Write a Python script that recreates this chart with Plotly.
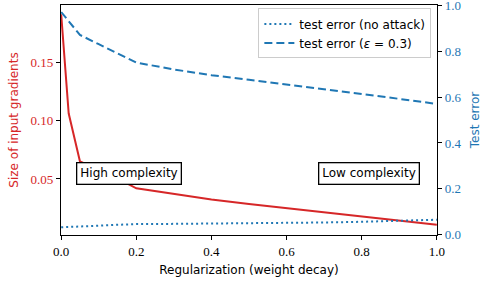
import plotly.graph_objects as go

x_vals = [0.0, 0.02, 0.05, 0.1, 0.15, 0.2, 0.3, 0.4, 0.5, 0.6, 0.7, 0.8, 0.9, 1.0]
grad_size = [0.191, 0.106, 0.065, 0.0575, 0.0505, 0.042, 0.037, 0.0325, 0.0285, 0.025, 0.0215, 0.0178, 0.0143, 0.0108]
err_clean = [0.033, 0.034, 0.036, 0.040, 0.044, 0.047, 0.048, 0.049, 0.050, 0.052, 0.054, 0.057, 0.061, 0.066]
err_attack = [0.97, 0.93, 0.87, 0.83, 0.79, 0.75, 0.72, 0.695, 0.675, 0.655, 0.635, 0.612, 0.592, 0.570]

x_ticks = [0.0, 0.2, 0.4, 0.6, 0.8, 1.0]
left_ticks = [0.05, 0.10, 0.15]
right_ticks = [0.0, 0.2, 0.4, 0.6, 0.8, 1.0]

RED = "#d62728"
BLUE = "#1f77b4"
SERIF = "Liberation Serif, DejaVu Serif, serif"
SANS = "DejaVu Sans, Liberation Sans, sans-serif"

fig = go.Figure()
fig.add_trace(go.Scatter(x=x_vals, y=grad_size, mode="lines", line=dict(color=RED, width=2),
                         showlegend=False, yaxis="y"))
fig.add_trace(go.Scatter(x=x_vals, y=err_clean, mode="lines", name="test error (no attack)",
                         line=dict(color=BLUE, width=2, dash="2px,3px"), yaxis="y2"))
fig.add_trace(go.Scatter(x=x_vals, y=err_attack, mode="lines", name="test error (<i>ε</i> = 0.3)",
                         line=dict(color=BLUE, width=2, dash="8px,4px"), yaxis="y2"))

axis_common = dict(showgrid=False, zeroline=False, showline=True, linecolor="black", linewidth=1.3,
                   ticks="outside", ticklen=4, tickwidth=1, automargin=False, ticklabeloverflow="allow")

fig.update_layout(
    width=482, height=285,
    margin=dict(l=61, r=45, t=5, b=50, autoexpand=False),
    plot_bgcolor="white", paper_bgcolor="white",
    xaxis=dict(range=[-0.0005, 1.0005], tickvals=x_ticks, ticktext=[f"{v:.1f}" for v in x_ticks],
               tickfont=dict(family=SERIF, size=13, color="black"), tickcolor="black",
               title=dict(text="Regularization (weight decay)", font=dict(family=SANS, size=12, color="black"),
                          standoff=7),
               mirror=True, **axis_common),
    yaxis=dict(range=[0.002, 0.199], tickvals=left_ticks, ticktext=[f"{v:.2f}" for v in left_ticks],
               tickfont=dict(family=SERIF, size=13, color=RED), tickcolor="black",
               title=dict(text="Size of input gradients", font=dict(family=SANS, size=12, color=RED),
                          standoff=9),
               **axis_common),
    yaxis2=dict(range=[-0.0005, 1.0005], overlaying="y", side="right", tickvals=right_ticks,
                ticktext=[f"{v:.1f}" for v in right_ticks],
                tickfont=dict(family=SERIF, size=13, color=BLUE), tickcolor="black",
                title=dict(text="Test error", font=dict(family=SANS, size=12, color=BLUE), standoff=10),
                **axis_common),
    legend=dict(x=0.985, y=0.985, xanchor="right", yanchor="top", bgcolor="rgba(255,255,255,0.8)",
                bordercolor="#cccccc", borderwidth=1, font=dict(family=SANS, size=12, color="black"),
                tracegroupgap=0, itemwidth=30),
    annotations=[
        dict(x=0.18, y=0.055, xref="x", yref="y", text="High complexity", showarrow=False,
             font=dict(family=SANS, size=12, color="black"), bgcolor="white", bordercolor="black",
             borderwidth=1.3, borderpad=3),
        dict(x=0.82, y=0.055, xref="x", yref="y", text="Low complexity", showarrow=False,
             font=dict(family=SANS, size=12, color="black"), bgcolor="white", bordercolor="black",
             borderwidth=1.3, borderpad=3),
    ],
)

fig.write_html("out.html", config={"displayModeBar": False},
               post_script="document.body.style.margin='0';document.body.style.overflow='hidden';")
